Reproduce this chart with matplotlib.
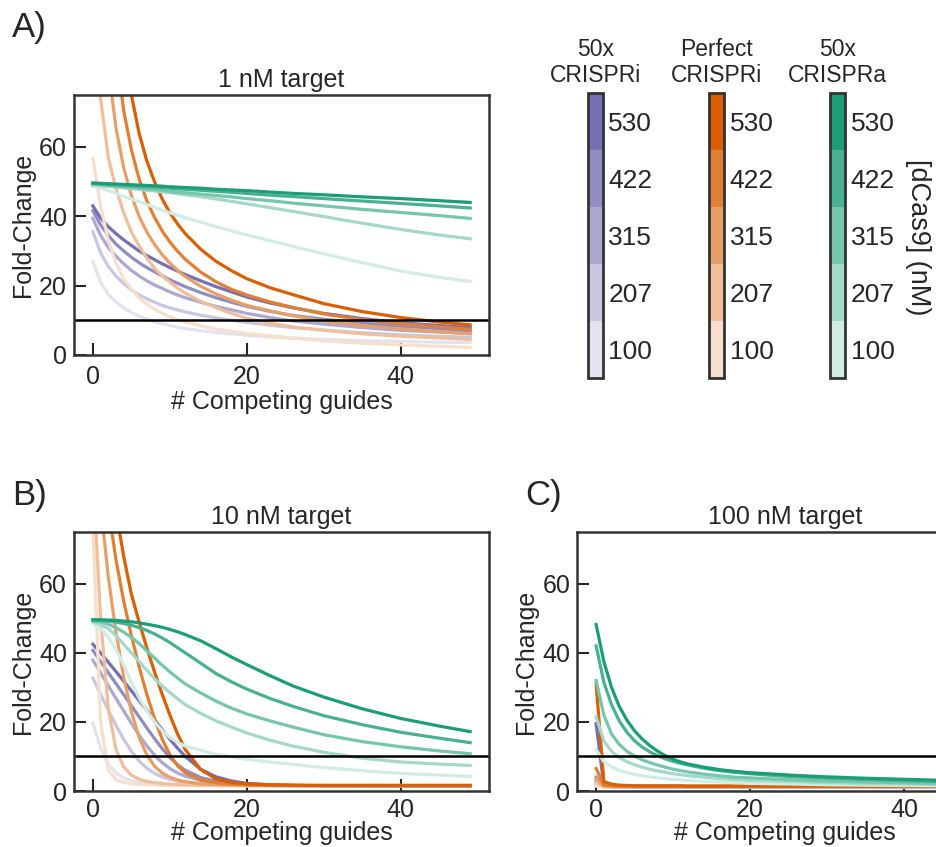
import numpy as np
import matplotlib
matplotlib.use('Agg')
import matplotlib.pyplot as plt
from matplotlib.colors import ListedColormap, BoundaryNorm, to_rgb
from matplotlib.colorbar import ColorbarBase

plt.rcParams['font.family'] = ['Liberation Sans', 'DejaVu Sans']
plt.rcParams['text.color'] = '.15'
plt.rcParams['axes.labelcolor'] = '.15'

# number of competing guides where values were read
guides = [0, 1, 2, 3, 4, 5, 6, 7, 8, 9, 10, 11, 12, 14, 16, 18, 20, 23, 26, 30, 35, 40, 45, 49]
dcas9 = ['100', '207', '315', '422', '530']
families = ['50x\nCRISPRi', 'Perfect\nCRISPRi', '50x\nCRISPRa']
base_colors = ['#7570b3', '#d95f02', '#1b9e77']
shades = [0.2, 0.4, 0.6, 0.8, 1.0]

# ---- 1 nM target (rows: 100, 207, 315, 422, 530 nM dCas9)
a_purple = [
    [26.9, 21, 17.5, 15.3, 13.6, 12.3, 11.2, 10.3, 9.6, 9.0, 8.5, 8.0, 7.6, 7.0, 6.5, 6.1, 5.7, 5.2, 4.8, 4.5, 4.1, 3.9, 3.7, 3.6],
    [35.6, 29.5, 25.5, 22.8, 20.6, 18.8, 17.3, 16.2, 15.2, 14.3, 13.6, 13.0, 12.4, 11.5, 10.7, 10.0, 9.4, 8.6, 7.9, 7.2, 6.4, 5.8, 5.4, 5.1],
    [39.4, 34.5, 31, 28.5, 26.3, 24.4, 22.8, 21.4, 20.2, 19.2, 18.2, 17.3, 16.5, 15.2, 14.0, 13.0, 12.0, 10.8, 9.8, 8.9, 7.9, 7.1, 6.6, 6.2],
    [41.6, 37.5, 34.5, 32, 30, 28.2, 26.6, 25.2, 24, 22.8, 21.7, 20.7, 19.7, 18.0, 16.5, 15.2, 14.0, 12.6, 11.4, 10.3, 9.2, 8.3, 7.6, 7.0],
    [43, 39.5, 37, 35, 33.2, 31.6, 30, 28.7, 27.5, 26.3, 25.2, 24.2, 23.2, 21.4, 19.7, 18.2, 16.7, 15.0, 13.6, 12.0, 10.5, 9.3, 8.5, 7.9],
]
a_orange = [
    [56.7, 43, 33, 26.5, 22, 19, 16.5, 14.7, 13.2, 12.0, 11.0, 10.2, 9.5, 8.4, 7.5, 6.8, 6.2, 5.5, 4.9, 4.1, 3.4, 2.9, 2.5, 2.2],
    [95, 74, 57, 48, 41, 35.5, 31.5, 28, 25, 22.8, 21, 19.3, 17.8, 15.5, 13.6, 12.0, 10.6, 9.2, 8.1, 7.1, 6.1, 5.4, 4.9, 4.5],
    [200, 113, 83, 65.5, 54, 46, 40, 35.5, 31.9, 28.9, 26.5, 24.4, 22.6, 19.8, 17.6, 15.8, 14.3, 12.7, 11.3, 9.8, 8.5, 7.5, 6.7, 6.1],
    [300, 170, 116, 88, 70.5, 59.2, 50.8, 44.5, 39.7, 35.8, 32.6, 29.9, 27.6, 23.9, 21.1, 18.9, 17.3, 15.3, 13.7, 11.8, 10.2, 9.0, 8.1, 7.4],
    [300, 200, 145, 110, 89, 75, 64, 56, 50, 45, 41, 37.8, 35, 30.5, 27, 24.3, 22, 19.4, 17.4, 14.8, 12.5, 10.8, 9.5, 8.7],
]
a_green = [
    [48.7, 48.2, 47.4, 46.6, 45.8, 45.0, 44.2, 43.4, 42.6, 41.8, 41.0, 40.3, 39.6, 38.3, 37.0, 35.8, 34.6, 33.0, 31.3, 29.2, 26.6, 24.2, 22.4, 21.2],
    [49.0, 48.8, 48.6, 48.4, 48.2, 48.0, 47.8, 47.5, 47.3, 47.0, 46.8, 46.5, 46.2, 45.7, 45.0, 44.3, 43.6, 42.5, 41.4, 39.9, 38.0, 36.2, 34.6, 33.5],
    [49.3, 49.1, 48.9, 48.7, 48.5, 48.3, 48.1, 47.9, 47.7, 47.5, 47.2, 47.0, 46.8, 46.4, 46.0, 45.6, 45.1, 44.5, 43.8, 43.0, 42.0, 41.1, 40.2, 39.4],
    [49.5, 49.4, 49.2, 49.1, 48.9, 48.8, 48.6, 48.5, 48.4, 48.2, 48.1, 47.9, 47.8, 47.5, 47.2, 46.9, 46.6, 46.1, 45.7, 45.1, 44.4, 43.7, 43.0, 42.4],
    [49.6, 49.5, 49.4, 49.3, 49.2, 49.1, 49.0, 48.9, 48.8, 48.7, 48.5, 48.4, 48.3, 48.1, 47.8, 47.6, 47.4, 47.0, 46.6, 46.2, 45.6, 45.1, 44.5, 44.0],
]

# ---- 10 nM target
b_purple = [
    [19.6, 12.5, 7.8, 5.2, 3.8, 3.0, 2.5, 2.2, 2.0, 1.9, 1.8, 1.7, 1.65, 1.6, 1.55, 1.5, 1.5, 1.5, 1.4, 1.4, 1.4, 1.4, 1.4, 1.4],
    [32.7, 28, 23.4, 19, 15, 11.5, 8.7, 6.6, 5.1, 4.1, 3.4, 2.9, 2.6, 2.1, 1.9, 1.7, 1.6, 1.5, 1.5, 1.5, 1.4, 1.4, 1.4, 1.4],
    [37.9, 34.2, 30.5, 26.8, 23.2, 19.6, 16.2, 13.1, 10.4, 8.2, 6.5, 5.2, 4.3, 3.1, 2.4, 2.0, 1.8, 1.6, 1.5, 1.5, 1.5, 1.4, 1.4, 1.4],
    [40.7, 37.5, 34.3, 31.1, 27.9, 24.7, 21.5, 18.3, 15.2, 12.3, 9.7, 7.6, 6.0, 3.9, 2.8, 2.2, 1.9, 1.7, 1.6, 1.5, 1.5, 1.4, 1.4, 1.4],
    [42.5, 40, 37.3, 34.6, 31.8, 29, 26.2, 23.4, 20.6, 17.8, 15, 12.4, 10, 6.3, 4.1, 2.9, 2.2, 1.8, 1.6, 1.5, 1.5, 1.4, 1.4, 1.4],
]
b_orange = [
    [76, 20, 6, 3.3, 2.5, 2.1, 1.9, 1.8, 1.7, 1.65, 1.6, 1.6, 1.6, 1.55, 1.55, 1.5, 1.5, 1.5, 1.5, 1.5, 1.5, 1.5, 1.5, 1.5],
    [92, 50, 24, 12, 7.0, 4.6, 3.4, 2.8, 2.4, 2.2, 2.0, 1.9, 1.8, 1.7, 1.7, 1.6, 1.6, 1.6, 1.6, 1.6, 1.6, 1.6, 1.6, 1.6],
    [110, 83, 62, 46, 33, 23, 15.5, 10.5, 7.2, 5.2, 4.0, 3.2, 2.7, 2.1, 1.9, 1.8, 1.7, 1.6, 1.6, 1.6, 1.6, 1.6, 1.6, 1.6],
    [120, 100, 82, 67, 55, 45, 36, 28, 21, 15, 10.5, 7.3, 5.3, 3.2, 2.4, 2.0, 1.8, 1.7, 1.6, 1.6, 1.6, 1.6, 1.6, 1.6],
    [130, 112, 96, 81, 68, 57, 49, 41.5, 34.5, 28, 22, 16.5, 12, 6.2, 3.5, 2.5, 2.1, 1.8, 1.7, 1.6, 1.6, 1.6, 1.6, 1.6],
]
b_green = [
    [48.5, 47, 44.5, 41, 36.5, 31.5, 27, 23.2, 20, 17.5, 15.5, 14.1, 13.0, 11.8, 10.6, 9.8, 9.2, 8.4, 7.7, 6.8, 5.9, 5.1, 4.6, 4.2],
    [49, 48.3, 47, 45, 42.5, 40, 37.5, 35, 32.5, 30.4, 28.5, 26.7, 25, 22.5, 20.3, 18.5, 16.8, 14.7, 13.0, 11.2, 9.5, 8.4, 7.8, 7.4],
    [49.3, 49, 48.3, 47.3, 46, 44.5, 42.7, 40.6, 38.5, 36.4, 34.5, 32.7, 31, 28.4, 26, 24, 22.3, 20.3, 18.5, 16.3, 14.3, 12.8, 11.6, 10.8],
    [49.5, 49.4, 49.2, 48.9, 48.5, 48, 47.3, 46.5, 45.5, 44.3, 43, 41.5, 40, 37, 34, 31.6, 29.5, 26.8, 24.5, 21.8, 19.2, 17.0, 15.3, 14.0],
    [49.6, 49.6, 49.5, 49.4, 49.2, 49.0, 48.7, 48.3, 47.9, 47.4, 46.8, 46.1, 45.3, 43.5, 41.2, 38.8, 36.6, 33.4, 30.4, 27.2, 23.8, 21.0, 18.8, 17.2],
]

# ---- 100 nM target
c_purple = [
    [1.4, 1.2, 1.2, 1.2, 1.2, 1.2, 1.2, 1.2, 1.2, 1.2, 1.2, 1.2, 1.2, 1.2, 1.2, 1.2, 1.2, 1.2, 1.2, 1.2, 1.2, 1.2, 1.2, 1.2],
    [2.0, 1.3, 1.2, 1.2, 1.2, 1.2, 1.2, 1.2, 1.2, 1.2, 1.2, 1.2, 1.2, 1.2, 1.2, 1.2, 1.2, 1.2, 1.2, 1.2, 1.2, 1.2, 1.2, 1.2],
    [2.8, 1.3, 1.2, 1.2, 1.2, 1.2, 1.2, 1.2, 1.2, 1.2, 1.2, 1.2, 1.2, 1.2, 1.2, 1.2, 1.2, 1.2, 1.2, 1.2, 1.2, 1.2, 1.2, 1.2],
    [4.0, 1.4, 1.3, 1.2, 1.2, 1.2, 1.2, 1.2, 1.2, 1.2, 1.2, 1.2, 1.2, 1.2, 1.2, 1.2, 1.2, 1.2, 1.2, 1.2, 1.2, 1.2, 1.2, 1.2],
    [19.5, 1.6, 1.3, 1.3, 1.2, 1.2, 1.2, 1.2, 1.2, 1.2, 1.2, 1.2, 1.2, 1.2, 1.2, 1.2, 1.2, 1.2, 1.2, 1.2, 1.2, 1.2, 1.2, 1.2],
]
c_orange = [
    [1.6, 1.2, 1.2, 1.2, 1.2, 1.2, 1.2, 1.2, 1.2, 1.2, 1.2, 1.2, 1.2, 1.2, 1.2, 1.2, 1.2, 1.2, 1.2, 1.2, 1.2, 1.2, 1.2, 1.2],
    [2.3, 1.3, 1.3, 1.3, 1.3, 1.3, 1.3, 1.3, 1.3, 1.3, 1.3, 1.3, 1.3, 1.3, 1.3, 1.3, 1.3, 1.3, 1.3, 1.3, 1.3, 1.3, 1.3, 1.3],
    [3.5, 1.5, 1.4, 1.4, 1.4, 1.4, 1.4, 1.4, 1.4, 1.4, 1.4, 1.4, 1.4, 1.4, 1.4, 1.4, 1.4, 1.4, 1.4, 1.4, 1.4, 1.4, 1.4, 1.4],
    [6.5, 1.7, 1.5, 1.4, 1.4, 1.4, 1.4, 1.4, 1.4, 1.4, 1.4, 1.4, 1.4, 1.4, 1.4, 1.4, 1.4, 1.4, 1.4, 1.4, 1.4, 1.4, 1.4, 1.4],
    [31, 2.7, 2.0, 1.7, 1.6, 1.5, 1.5, 1.5, 1.5, 1.5, 1.5, 1.5, 1.4, 1.4, 1.4, 1.4, 1.4, 1.4, 1.4, 1.4, 1.4, 1.4, 1.4, 1.4],
]
c_green = [
    [12, 8.5, 7, 6.0, 5.3, 4.8, 4.4, 4.1, 3.8, 3.6, 3.4, 3.2, 3.0, 2.8, 2.6, 2.4, 2.2, 2.1, 2.0, 1.8, 1.7, 1.6, 1.5, 1.4],
    [21.5, 14.5, 11.5, 9.7, 8.5, 7.6, 6.9, 6.3, 5.8, 5.4, 5.0, 4.7, 4.4, 4.0, 3.6, 3.3, 3.1, 2.9, 2.7, 2.4, 2.2, 2.0, 1.9, 1.8],
    [32, 22, 16.5, 13.5, 11.5, 10.1, 9.0, 8.2, 7.5, 6.9, 6.3, 5.9, 5.5, 4.9, 4.4, 4.0, 3.8, 3.5, 3.2, 2.9, 2.6, 2.4, 2.2, 2.1],
    [42, 31.5, 25, 20.3, 17, 14.5, 12.7, 11.3, 10.2, 9.3, 8.6, 8.0, 7.5, 6.6, 5.9, 5.4, 5.0, 4.5, 4.1, 3.7, 3.3, 3.0, 2.7, 2.5],
    [48.2, 37.5, 30, 24.5, 20.5, 17.4, 15.0, 13.1, 11.5, 10.2, 9.2, 8.4, 7.8, 6.9, 6.2, 5.7, 5.3, 4.9, 4.5, 4.1, 3.7, 3.4, 3.1, 2.9],
]

threshold = 10


def shade(color, a):
    rgb = np.array(to_rgb(color))
    return tuple(1 - a * (1 - rgb))


def style_axes(ax, xpad):
    for s in ax.spines.values():
        s.set_linewidth(1.8)
        s.set_color('.2')
    ax.tick_params(direction='in', length=8.5, width=1.5, color='.15',
                   labelsize=18, labelcolor='.15')
    ax.tick_params(axis='x', pad=xpad)
    ax.tick_params(axis='y', pad=5)


def draw_panel(ax, title, purple, orange, green, xpad=7, lpad=1):
    for fam, data in zip(base_colors, [purple, orange, green]):
        for i, row in enumerate(data):
            ax.plot(guides, row, color=shade(fam, shades[i]), lw=2.3)
    ax.axhline(threshold, color='black', lw=1.8)
    ax.set_xlim(-2.45, 51.45)
    ax.set_ylim(0, 75)
    ax.set_xticks([0, 20, 40])
    ax.set_yticks([0, 20, 40, 60])
    ax.set_title(title, fontsize=18, pad=6)
    ax.set_xlabel('# Competing guides', fontsize=18, labelpad=lpad)
    ax.set_ylabel('Fold-Change', fontsize=18, labelpad=3)
    style_axes(ax, xpad)


fig = plt.figure(figsize=(9.37, 8.47), dpi=100)

axA = fig.add_axes([0.0790, 0.5809, 0.4429, 0.3070])
axB = fig.add_axes([0.0790, 0.0661, 0.4429, 0.3058])
axC = fig.add_axes([0.6161, 0.0661, 0.4429, 0.3058])

draw_panel(axA, '1 nM target', a_purple, a_orange, a_green)
# bottom row: slightly tighter so the x labels stay inside the figure
draw_panel(axB, '10 nM target', b_purple, b_orange, b_green, xpad=5, lpad=-1)
draw_panel(axC, '100 nM target', c_purple, c_orange, c_green, xpad=5, lpad=-1)

fig.text(12 / 937, 1 - 37 / 847, 'A)', fontsize=25, va='baseline')
fig.text(12 / 937, 1 - 505 / 847, 'B)', fontsize=25, va='baseline')
fig.text(525 / 937, 1 - 505 / 847, 'C)', fontsize=25, va='baseline')

# discrete colorbars for dCas9 levels
cb_lefts = [0.6272, 0.7570, 0.8858]
for left, fam, name in zip(cb_lefts, base_colors, families):
    cax = fig.add_axes([left, 0.5534, 0.0160, 0.3365])
    cmap = ListedColormap([shade(fam, a) for a in shades])
    norm = BoundaryNorm(np.arange(6), cmap.N)
    cb = ColorbarBase(cax, cmap=cmap, norm=norm, ticks=np.arange(5) + 0.5)
    cb.set_ticklabels(dcas9)
    cb.outline.set_linewidth(2)
    cb.outline.set_edgecolor('.2')
    cax.minorticks_off()
    cax.tick_params(which='both', length=0, labelsize=19, pad=4, labelcolor='.15')
    cax.set_title(name, fontsize=16.5, pad=8)

fig.text(918 / 937, 1 - 237 / 847, '[dCas9] (nM)', rotation=270,
         ha='center', va='center', fontsize=19.5)

plt.savefig('out.png', dpi=100)
